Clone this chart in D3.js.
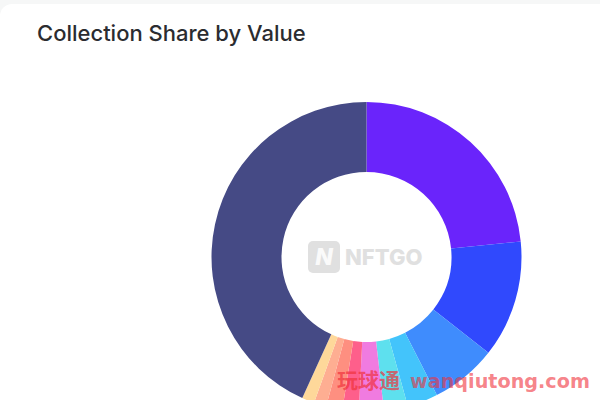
<!DOCTYPE html>
<html>
<head>
<meta charset="utf-8">
<script src="https://cdn.jsdelivr.net/npm/d3@7"></script>
<style>
html, body { margin: 0; padding: 0; background: #f6f7f7; overflow: hidden; }
#chart { width: 600px; height: 400px; }
</style>
</head>
<body>
<div id="chart"></div>
<script>
// slice names are not shown in the picture, so these are placeholders
const collections = ["A", "B", "C", "D", "E", "F", "G", "H", "I", "J", "K"];
// share in percent, clockwise from 12 o'clock
const shares = [23.4, 12.2, 6.9, 3.2, 2.5, 2.6, 1.7, 1.7, 1.3, 1.3, 43.2];
const colors = ["#6a24fb", "#3049fd", "#3f8cfd", "#43c4fb", "#5ee0ee", "#f07be0", "#fe5f8b", "#fe8f80", "#feae92", "#fed89a", "#454a85"];

const width = 600, height = 400;

const svg = d3.select("#chart")
    .append("svg")
    .attr("width", width)
    .attr("height", height);

// white card with a rounded corner, grey page strip above it
svg.append("rect")
    .attr("x", 0)
    .attr("y", 4)
    .attr("width", width + 20)
    .attr("height", height + 20)
    .attr("rx", 12)
    .attr("fill", "#fff");

svg.append("text")
    .attr("x", 37)
    .attr("y", 41)
    .attr("font-family", "Inter, sans-serif")
    .attr("font-size", "22px")
    .attr("font-weight", 500)
    .attr("fill", "#2b2c30")
    .text("Collection Share by Value");

const donut = svg.append("g")
    .attr("transform", "translate(366.5,257)");

const pie = d3.pie().sort(null).value(d => d);
const arc = d3.arc().innerRadius(85).outerRadius(155);

donut.selectAll("path")
    .data(pie(shares))
    .enter()
    .append("path")
    .attr("d", arc)
    .attr("fill", (d, i) => colors[i]);

// NFTGO logo in the hole
const logo = svg.append("g").attr("transform", "translate(308,241)");

logo.append("rect")
    .attr("width", 32)
    .attr("height", 32)
    .attr("rx", 5)
    .attr("fill", "#e0e0e0");

logo.append("text")
    .attr("x", 16)
    .attr("y", 24)
    .attr("text-anchor", "middle")
    .attr("font-family", "Inter, sans-serif")
    .attr("font-size", "23px")
    .attr("font-style", "italic")
    .attr("font-weight", 800)
    .attr("fill", "#fafafa")
    .text("N");

logo.append("text")
    .attr("x", 37)
    .attr("y", 24)
    .attr("font-family", "Inter, sans-serif")
    .attr("font-size", "22px")
    .attr("font-weight", 800)
    .attr("fill", "#e0e0e0")
    .text("NFTGO");

// site watermark
svg.append("text")
    .attr("x", 337)
    .attr("y", 388)
    .attr("font-family", "'Noto Sans CJK SC', sans-serif")
    .attr("font-size", "21px")
    .attr("font-weight", 700)
    .attr("fill", "#f0323c")
    .attr("fill-opacity", 0.7)
    .text("玩球通");

svg.append("text")
    .attr("x", 410)
    .attr("y", 388)
    .attr("font-family", "'DejaVu Sans', sans-serif")
    .attr("font-size", "19.2px")
    .attr("font-weight", 700)
    .attr("fill", "#f0323c")
    .attr("fill-opacity", 0.62)
    .text("wanqiutong.com");
</script>
</body>
</html>
